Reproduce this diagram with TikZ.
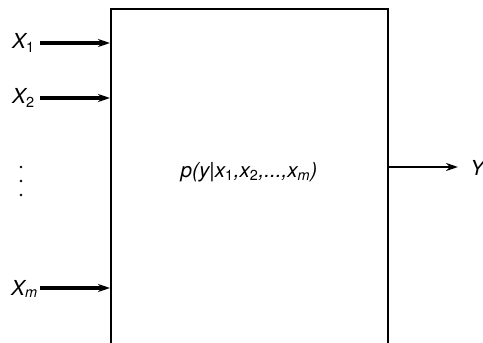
\documentclass[tikz,border=0pt]{standalone}
\usepackage{fontspec}
\setmainfont{TeX Gyre Heros}
\usetikzlibrary{positioning,arrows.meta}
\tikzset{
  inarrow/.style={line width=2.3pt, -{Stealth[length=9pt,width=6pt]}},
  outarrow/.style={line width=1.5pt, -{Stealth[length=9pt,width=6pt]}},
  varlabel/.style={font=\fontsize{15.5}{18}\selectfont\itshape, inner sep=0pt},
}
\newcommand{\idx}[1]{\textsubscript{\upshape #1}}
\begin{document}
\begin{tikzpicture}[x=0.75pt,y=-0.75pt]
  \useasboundingbox (0,0) rectangle (483,343);
  \clip (0,0) rectangle (483,343);
  % Boite du modele
  \node[draw, line width=1.5pt, minimum width=277*0.75pt, minimum height=400*0.75pt,
        anchor=north west, inner sep=0pt] (model) at (110,8) {};
  \node[font=\fontsize{15.5}{18}\selectfont\itshape] (dist) at (249,172)
    {p(y{\upshape|}x\idx{1},x\idx{2},...,x\textsubscript{m})};
  % Entrees
  \node[varlabel, anchor=east] (x1) at (35,43) {X\idx{1}};
  \node[varlabel, anchor=east] (x2) at (35,98) {X\idx{2}};
  \node[varlabel, anchor=east] (xm) at (38,289) {X\textsubscript{m}};
  \draw[inarrow] (40,43) coordinate (x1in) -- (model.west |- x1in);
  \draw[inarrow] (40,98) coordinate (x2in) -- (model.west |- x2in);
  \draw[inarrow] (40,288) coordinate (xmin) -- (model.west |- xmin);
  % Points de suspension
  \foreach \yy in {167,181,195}
    \fill (21,\yy) circle (1pt);
  % Sortie
  \node[varlabel, anchor=west] (y) at (470,168) {Y};
  \draw[outarrow] (model.east |- 0,167) -- (458,167);
\end{tikzpicture}
\end{document}
